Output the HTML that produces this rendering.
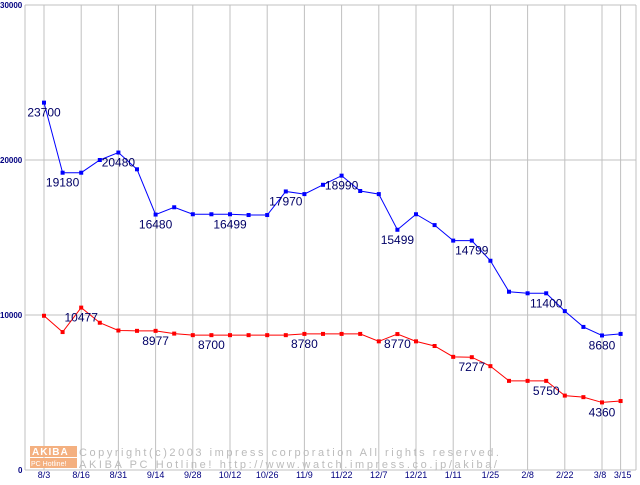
<!DOCTYPE html>
<html><head><meta charset="utf-8"><style>
body{margin:0;background:#fff;width:640px;height:480px;overflow:hidden}
svg text{font-family:"Liberation Sans",sans-serif}
</style></head><body>
<svg id="chart" width="640" height="480" xmlns="http://www.w3.org/2000/svg">
<g id="grid"></g>
<g id="wm">
<rect x="30" y="446" width="47" height="11" fill="#f4b080"/>
<text x="32" y="455" font-size="10" fill="#fff" font-weight="bold" letter-spacing="1">AKIBA</text>
<rect x="30" y="458" width="47" height="10" fill="#f4b080"/>
<text x="31" y="466" font-size="7" fill="#fff">PC Hotline!</text>
<text x="79" y="456" font-size="11" fill="#bbbbbb" font-family="Liberation Mono" textLength="420">Copyright(c)2003 impress corporation All rights reserved.</text>
<text x="79" y="468" font-size="11" fill="#bbbbbb" font-family="Liberation Mono" textLength="418">AKIBA PC Hotline!  http://www.watch.impress.co.jp/akiba/</text>
</g>
<g id="series"></g>
<g id="labels"></g>
</svg>
<script>
const categories=["8/3","","8/16","","8/31","","9/14","","9/28","","10/12","","10/26","","11/9","","11/22","","12/7","","12/21","","1/11","","1/25","","2/8","","2/22","","3/8","3/15"];
const blueValues=[23700,19180,19180,20000,20480,19400,16480,16950,16500,16499,16499,16450,16450,17970,17800,18400,18990,18000,17800,15499,16500,15800,14799,14799,13500,11500,11400,11400,10250,9230,8680,8780];
const redValues=[9950,8900,10477,9500,9000,8977,8977,8800,8700,8700,8700,8700,8700,8700,8780,8780,8780,8780,8300,8770,8300,8000,7300,7277,6700,5750,5750,5750,4800,4700,4360,4450];
const yTicks=[0,10000,20000,30000];
const blueLabelIdx=[0,1,4,6,10,13,16,19,23,27,30];
const redLabelIdx=[2,6,9,14,19,23,27,30];
const NS="http://www.w3.org/2000/svg";
const X0=44,DX=18.6,Y0=470,L=25,R=636,TOP=5;
const x=i=>X0+DX*i;
const y=v=>Y0-(Y0-TOP)*v/30000;
function mk(tag,a,p){const e=document.createElementNS(NS,tag);for(const k in a)e.setAttribute(k,a[k]);p.appendChild(e);return e;}
const grid=document.getElementById('grid'),ser=document.getElementById('series'),lab=document.getElementById('labels');
yTicks.forEach(t=>{
 const l=mk('line',{x1:L,x2:R,y1:y(t),y2:y(t),stroke:'#c0c0c0'},grid);
 
 
 const tx=mk('text',{x:t?0:18,y:y(t)+3,'font-size':8,'font-weight':'bold',fill:'#000080','font-family':'Liberation Mono'},grid);
 tx.textContent=t;
 
 
});
mk('line',{x1:L,x2:L,y1:TOP,y2:Y0,stroke:'#c0c0c0'},grid);
mk('line',{x1:R,x2:R,y1:TOP,y2:Y0,stroke:'#c0c0c0'},grid);
categories.forEach((c,i)=>{
 if(!c)return;
 const l=mk('line',{x1:x(i),x2:x(i),y1:TOP,y2:Y0,stroke:'#c0c0c0'},grid);
 
 
 const t=mk('text',{x:x(i)+(c=="3/8"?-2:c=="3/15"?2:0),y:478,'font-size':9,fill:'#000080','text-anchor':'middle'},grid);
 t.textContent=c;
 
 
});
function drawSeries(vals,color,name){
 const pl=mk('polyline',{points:vals.map((v,i)=>x(i)+','+y(v)).join(' '),fill:'none',stroke:color,'stroke-width':1},ser);
 
 
 vals.forEach((v,i)=>{
  const r=mk('rect',{x:x(i)-2,y:y(v)-2,width:4,height:4,fill:color},ser);
  
  
 });
}
drawSeries(blueValues,'#0000ff','blue-series');
drawSeries(redValues,'#ff0000','red-series');
function drawLabels(vals,idx,name){
 idx.forEach(i=>{
  const t=mk('text',{x:x(i),y:y(vals[i])+14,'font-size':12,fill:'#000066','text-anchor':'middle'},lab);
  t.textContent=vals[i];
  
  
 });
}
drawLabels(blueValues,blueLabelIdx,'blue');
drawLabels(redValues,redLabelIdx,'red');
</script>
</body></html>
